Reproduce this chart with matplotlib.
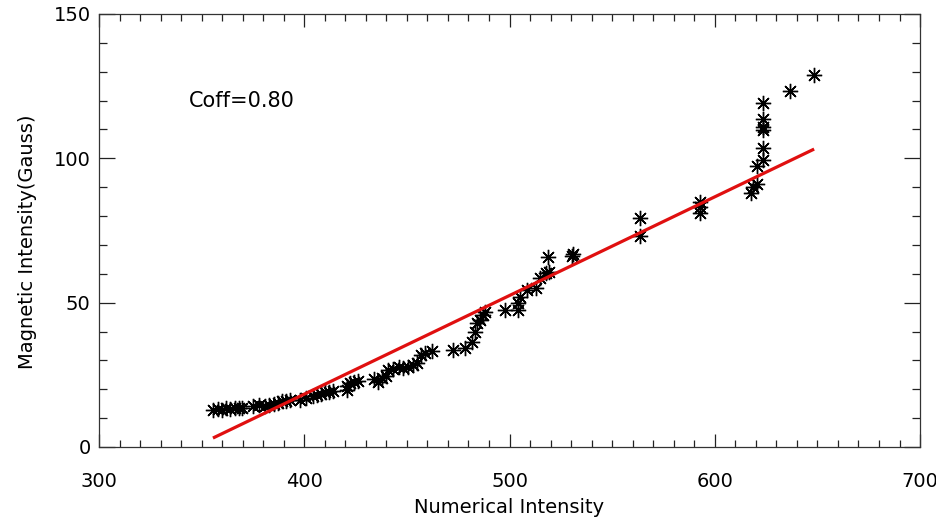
import numpy as np
import matplotlib
matplotlib.use('Agg')
import matplotlib.pyplot as plt
from matplotlib.ticker import MultipleLocator

# numerical intensity vs magnetic intensity
num_int = [355.5, 358, 360, 362, 364, 366, 368, 369.5,
           375, 378, 381, 383, 385, 387, 389, 391, 393,
           398, 401, 404, 406, 408, 410, 412, 414,
           420.7, 421, 422.3, 424, 426,
           434, 436, 438, 440, 441, 443, 446, 448, 450.5, 453, 455,
           457, 459, 462,
           472.6, 478.3, 481.6, 483.2, 484, 485.5, 487.2, 488,
           497.8, 504.3, 504.3, 505, 508.4, 513, 514.9, 518, 519, 518.9,
           530.6, 531,
           563.6, 563.6,
           592.8, 592.8, 592.8,
           617.5, 618.8, 620.7, 620.4, 623.4, 623.4, 623.4, 623.4, 623.4, 623.4,
           636.7, 648.4]
mag_int = [12.8, 13.2, 12.9, 13.4, 13.1, 13.5, 13.4, 13.6,
           14.3, 14.5, 14.2, 14.6, 15.0, 15.4, 15.8, 16.0, 16.2,
           16.3, 17.0, 17.5, 18.0, 18.5, 19.0, 19.2, 19.5,
           19.7, 21.0, 22.0, 22.6, 23.0,
           23.5, 22.6, 24.0, 24.5, 26.7, 27.0, 27.8, 27.5, 27.8, 28.5, 29.0,
           31.9, 32.5, 33.4,
           33.5, 34.2, 36.5, 40.0, 42.8, 44.0, 45.7, 46.9,
           47.4, 47.4, 49.8, 52.0, 54.4, 55.0, 58.4, 60.2, 60.7, 65.9,
           66.3, 67.0,
           79.4, 73.2,
           85.0, 83.0, 81.0,
           87.9, 90.2, 91.0, 97.3, 99.4, 103.7, 109.8, 110.7, 113.5, 119.0,
           123.4, 129.0]

# linear fit shown as red line
fit_x = [355.5, 648.4]
fit_y = [3.1, 103.2]
coff_text = 'Coff=0.80'

plt.rcParams['font.family'] = ['DejaVu Sans']

fig = plt.figure(figsize=(9.37, 5.2), dpi=100)
ax = fig.add_axes([0.1057, 0.1404, 0.8762, 0.8327])

ax.plot(num_int, mag_int, linestyle='none', marker=(8, 2, 0), markersize=11,
        markeredgewidth=1.0, color='black')
ax.plot(fit_x, fit_y, color='#e01010', linewidth=2.3, solid_capstyle='butt')

ax.text(344, 120, coff_text, fontsize=15, va='center', ha='left')

ax.set_xlim(300, 700)
ax.set_ylim(0, 150)
ax.xaxis.set_major_locator(MultipleLocator(100))
ax.xaxis.set_minor_locator(MultipleLocator(10))
ax.yaxis.set_major_locator(MultipleLocator(50))
ax.yaxis.set_minor_locator(MultipleLocator(10))

ax.tick_params(axis='both', which='both', direction='in', top=True, right=True,
               color='#222222', width=0.9, labelsize=14)
ax.tick_params(axis='x', which='major', length=9.5, pad=18)
ax.tick_params(axis='x', which='minor', length=5)
ax.tick_params(axis='y', which='major', length=11.5, pad=6)
ax.tick_params(axis='y', which='minor', length=5.8)

for s in ax.spines.values():
    s.set_color('#333333')
    s.set_linewidth(0.9)

ax.set_xlabel('Numerical Intensity', fontsize=14, labelpad=5)
ax.set_ylabel('Magnetic Intensity(Gauss)', fontsize=14)
ax.yaxis.set_label_coords(-0.075, 0.475)

fig.savefig('out.png', dpi=100)
